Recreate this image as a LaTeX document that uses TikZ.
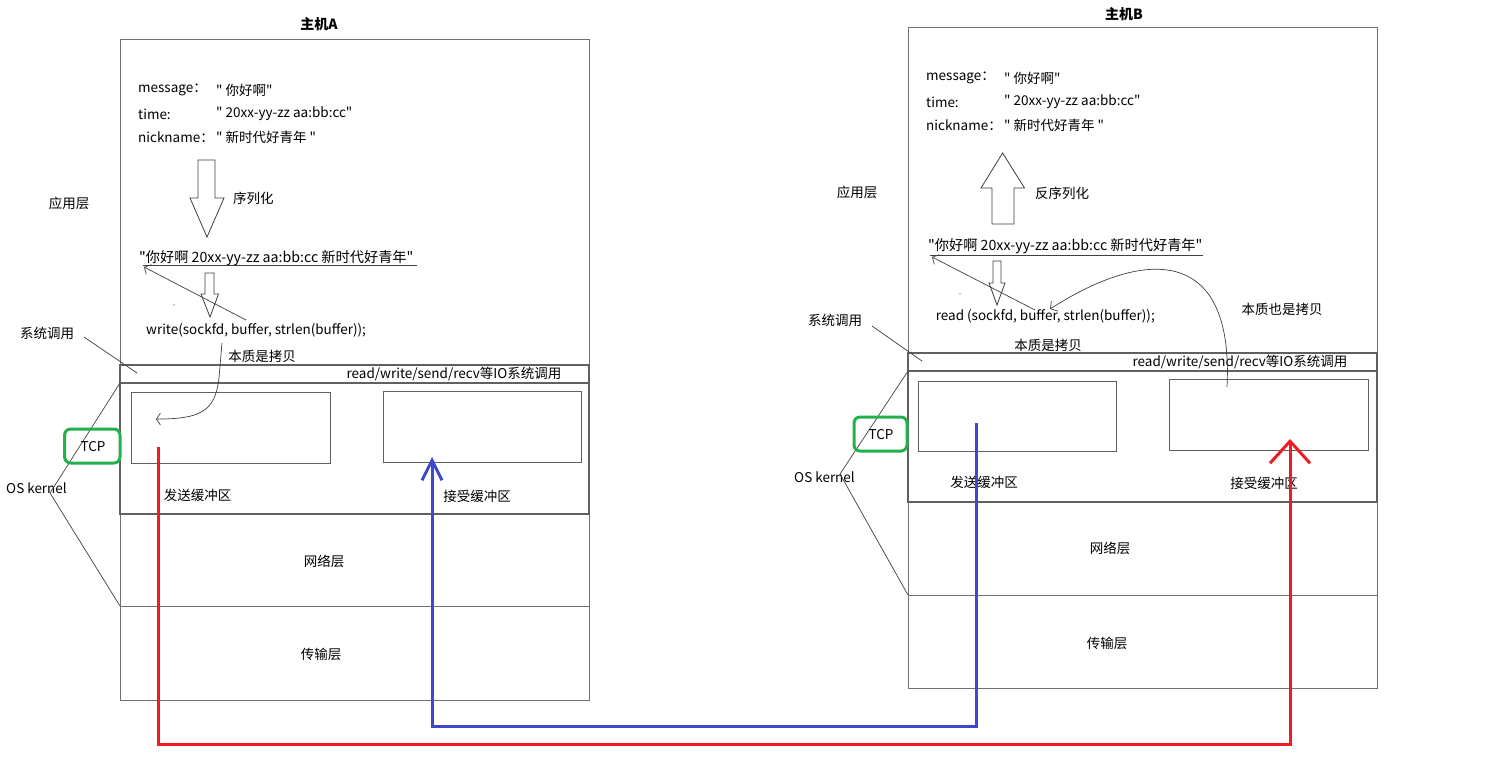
\documentclass[tikz,border=0pt]{standalone}
\usepackage{fontspec}
\setmainfont{Noto Sans CJK SC}[Ligatures=TeXOff]
\usetikzlibrary{arrows.meta}
\definecolor{boxgray}{HTML}{707070}
\definecolor{bandgray}{HTML}{606060}
\definecolor{thinline}{HTML}{404040}
\definecolor{myred}{HTML}{EE1C24}
\definecolor{myblue}{HTML}{3F48CC}
\definecolor{mygreen}{HTML}{22B14C}
\begin{document}
\begin{tikzpicture}[x=1pt,y=-1pt,
  txt/.style={inner sep=0pt, font=\fontsize{13.5}{16}\selectfont, anchor=west},
  strtxt/.style={inner sep=0pt, font=\fontsize{14.2}{16}\selectfont, anchor=west},
  ctxt/.style={inner sep=0pt, font=\fontsize{13.5}{16}\selectfont},
  ttl/.style={inner sep=0pt, font=\fontsize{14}{16}\selectfont\bfseries},
  layer/.style={draw=boxgray, line width=1pt},
  band/.style={draw=bandgray, line width=1.6pt},
  buf/.style={draw=bandgray, line width=1pt},
  thin/.style={draw=thinline, line width=0.7pt},
  thinarrow/.style={thin, -{Straight Barb[length=5pt,width=11pt]}},
  hollow/.style={draw=thinline, line width=0.8pt, fill=white},
  tcpbox/.style={draw=mygreen, line width=3pt, rounded corners=6pt},
  redline/.style={draw=myred, line width=3pt},
  blueline/.style={draw=myblue, line width=3pt}
]
\useasboundingbox[fill=white] (0,0) rectangle (1485,769);

% ---------------- Host A layers
\draw[layer] (120,39) rectangle (589,365);
\draw[layer] (120,514) rectangle (589,606);
\draw[layer] (120,606) rectangle (589,700);
\draw[band] (120,365) rectangle (589,383);
\draw[band] (120,383) rectangle (589,514);
\draw[buf] (131,392) rectangle (330,463);
\draw[buf] (383,391) rectangle (581,462);

% ---------------- Host B layers
\draw[layer] (908,27) rectangle (1377,353);
\draw[layer] (908,502) rectangle (1377,595);
\draw[layer] (908,595) rectangle (1377,688);
\draw[band] (908,353) rectangle (1377,371);
\draw[band] (908,371) rectangle (1377,502);
\draw[buf] (918,381) rectangle (1116,451);
\draw[buf] (1169,379) rectangle (1368,450);

% ---------------- Host A texts
\node[ttl] (titleA) at (319,24) {主机A};
\node[txt] (msgA) at (138,90) {message：};
\node[txt] (msgAv) at (216,90) {" 你好啊"};
\node[txt] (timeA) at (138,114) {time:};
\node[txt] (timeAv) at (216,114) {" 20xx-yy-zz aa:bb:cc"};
\node[txt] (nickA) at (138,137) {nickname：};
\node[txt] (nickAv) at (216,137) {" 新时代好青年 "};
\node[ctxt] (appA) at (69,203) {应用层};
\node[txt] (serA) at (233,198) {序列化};
\node[strtxt] (strA) at (139,258) {"你好啊 20xx-yy-zz aa:bb:cc 新时代好青年"};
\node[txt] (writeA) at (146,330) {write(sockfd, buffer, strlen(buffer));};
\node[ctxt] (sysA) at (47,333) {系统调用};
\node[ctxt] (copyA) at (262,356) {本质是拷贝};
\node[ctxt] (bandA) at (454,374) {read/write/send/recv等IO系统调用};
\node[ctxt] (osA) at (36.5,488) {OS kernel};
\node[ctxt] (sendA) at (197.5,495) {发送缓冲区};
\node[ctxt] (recvA) at (477,496) {接受缓冲区};
\node[ctxt] (netA) at (324,561) {网络层};
\node[ctxt] (transA) at (321,654) {传输层};

% ---------------- Host B texts
\node[ttl] (titleB) at (1124,14) {主机B};
\node[txt] (msgB) at (926,78) {message：};
\node[txt] (msgBv) at (1004,78) {" 你好啊"};
\node[txt] (timeB) at (926,102) {time:};
\node[txt] (timeBv) at (1004,102) {" 20xx-yy-zz aa:bb:cc"};
\node[txt] (nickB) at (926,125) {nickname：};
\node[txt] (nickBv) at (1004,125) {" 新时代好青年 "};
\node[ctxt] (appB) at (857,192) {应用层};
\node[txt] (deserB) at (1035,193) {反序列化};
\node[strtxt] (strB) at (928,246) {"你好啊 20xx-yy-zz aa:bb:cc 新时代好青年"};
\node[txt] (readB) at (935.6,316) {read (sockfd, buffer, strlen(buffer));};
\node[ctxt] (sysB) at (835,320) {系统调用};
\node[ctxt] (copyB) at (1048,345) {本质是拷贝};
\node[ctxt] (copyB2) at (1282,309) {本质也是拷贝};
\node[ctxt] (bandB) at (1240,362) {read/write/send/recv等IO系统调用};
\node[ctxt] (osB) at (824.5,477) {OS kernel};
\node[ctxt] (sendB) at (984,482) {发送缓冲区};
\node[ctxt] (recvB) at (1264,483) {接受缓冲区};
\node[ctxt] (netB) at (1110,548) {网络层};
\node[ctxt] (transB) at (1107,643) {传输层};

% ---------------- underlines
\draw[thin] (143,265) -- (416.5,265);
\draw[thin] (930,255) -- (1203,255);

% ---------------- hollow arrows
\draw[hollow] (198,160) -- (215,160) -- (215,198) -- (224,198) -- (207,237) -- (190,198) -- (198,198) -- cycle;
\draw[hollow] (205,273) -- (214,273) -- (214,294) -- (218.5,294) -- (210,317) -- (201,294) -- (205,294) -- cycle;
\draw[hollow] (992,224) -- (1014,224) -- (1014,188) -- (1024.5,188) -- (1002.6,153) -- (981,188) -- (992,188) -- cycle;
\draw[hollow] (993,261) -- (1001,261) -- (1001,283) -- (1005,283) -- (997,305) -- (989,283) -- (993,283) -- cycle;

% stray dots
\fill[thinline] (174,305) circle (0.7);
\fill[thinline] (960,294) circle (0.7);

% ---------------- thin arrows buffer -> string
\coordinate (bufA) at (246,320);
\coordinate (strAend) at (144,267);
\draw[thinarrow] (bufA) -- (strAend);
\coordinate (bufB) at (1035,310);
\coordinate (strBend) at (932,257);
\draw[thinarrow] (bufB) -- (strBend);

% ---------------- copy curves
\coordinate (cpA1) at (222,343);
\coordinate (cpA2) at (156,419);
\draw[thin, -{Straight Barb[length=4pt,width=12pt]}] (cpA1) -- (219,378) .. controls (215,412) and (200,419) .. (cpA2);
\coordinate (cpB1) at (1227,387);
\coordinate (cpB2) at (1050,309);
\draw[thin, -{Straight Barb[length=5pt,width=12pt]}] (cpB1) .. controls (1234,250) and (1150,245) .. (cpB2);

% ---------------- pointer lines
\coordinate (sysAe) at (137,373);
\draw[thin] (84,337) -- (sysAe);
\coordinate (sysBe) at (922,361);
\draw[thin] (872,326) -- (sysBe);
\draw[thin] (120,383) -- (50,493) -- (120,606);
\draw[thin] (908,371) -- (840,474) -- (908,595);

% ---------------- TCP boxes
\draw[tcpbox] (64.6,429) rectangle (120,463);
\node[ctxt] (tcpA) at (93,447) {TCP};
\draw[tcpbox] (854,417) rectangle (907,451);
\node[ctxt] (tcpB) at (881,435) {TCP};

% ---------------- data paths
\coordinate (rs) at (158,447);
\coordinate (r1) at (158,744);
\coordinate (r2) at (1290,744);
\coordinate (re) at (1290,439);
\draw[redline, -{Straight Barb[length=22pt,width=40pt]}] (rs) -- (r1) -- (r2) -- (re);
\coordinate (bs) at (976,423);
\coordinate (b1) at (976,726);
\coordinate (b2) at (432,726);
\coordinate (be) at (432,457);
\draw[blueline, -{Straight Barb[length=20pt,width=20pt]}] (bs) -- (b1) -- (b2) -- (be);
\end{tikzpicture}
\end{document}
